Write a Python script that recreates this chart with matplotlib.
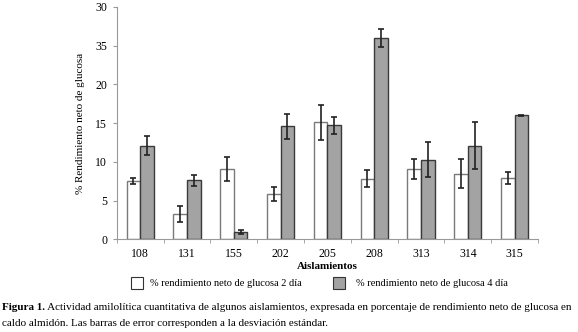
import matplotlib
matplotlib.use("Agg")
import matplotlib.pyplot as plt
import numpy as np
from matplotlib.patches import Rectangle

plt.rcParams['font.family'] = ['Liberation Serif', 'DejaVu Serif']

# data
aislamientos = ["108", "131", "155", "202", "205", "208", "313", "314", "315"]
dia2 = [7.5, 3.3, 9.1, 5.8, 15.1, 7.8, 9.1, 8.5, 7.9]
dia2_err = [0.4, 1.0, 1.55, 0.9, 2.3, 1.1, 1.3, 1.85, 0.8]
dia4 = [12.1, 7.6, 1.0, 14.6, 14.7, 26.0, 10.3, 12.1, 16.0]
dia4_err = [1.25, 0.7, 0.25, 1.6, 1.1, 1.2, 2.25, 3.05, 0.1]
y_ticks = [0, 5, 10, 15, 20, 25, 30]
y_labels = ["0", "5", "10", "15", "20", "35", "30"]

W, H = 578, 332
fig = plt.figure(figsize=(W / 100, H / 100), dpi=100)
ax = fig.add_axes([0.202, 0.279, 0.729, 0.700])

x = np.arange(len(aislamientos))
w = 0.29
ekw = dict(ecolor="#222222", elinewidth=1.2, capthick=1.2)
ax.bar(x - w / 2, dia2, w, color="white", edgecolor="#7a7a7a", linewidth=1.0,
       yerr=dia2_err, capsize=2.5, error_kw=ekw)
ax.bar(x + w / 2, dia4, w, color="#a3a3a3", edgecolor="#3a3a3a", linewidth=1.0,
       yerr=dia4_err, capsize=2.5, error_kw=ekw)

ax.set_xlim(-0.5, len(aislamientos) - 0.5)
ax.set_ylim(0, 30)
ax.set_yticks(y_ticks)
ax.set_yticklabels(y_labels)
ax.set_xticks(x)
ax.set_xticklabels(aislamientos)
ax.set_xticks(np.arange(len(aislamientos) + 1) - 0.5, minor=True)
ax.tick_params(axis="x", which="major", length=0, pad=6, labelsize=8.5)
ax.tick_params(axis="x", which="minor", length=3, color="#999999")
ax.tick_params(axis="y", length=3, color="#999999", labelsize=8.5, pad=4)

for s in ["top", "right"]:
    ax.spines[s].set_visible(False)
for s in ["left", "bottom"]:
    ax.spines[s].set_color("#999999")

ax.set_ylabel("% Rendimiento neto de glucosa", fontsize=8, labelpad=7)
ax.set_xlabel("Aislamientos", fontsize=8, fontweight="bold", labelpad=2)

# legend (drawn by hand to match the layout)
ly = 283
fig.patches.append(Rectangle((131 / W, 1 - (ly + 6) / H), 12 / W, 12 / H,
                             transform=fig.transFigure, facecolor="white", edgecolor="#333333", lw=0.8))
fig.text(150 / W, 1 - ly / H, "% rendimiento neto de glucosa 2 día", fontsize=7.5, va="center")
fig.patches.append(Rectangle((333 / W, 1 - (ly + 6) / H), 12 / W, 12 / H,
                             transform=fig.transFigure, facecolor="#a3a3a3", edgecolor="#333333", lw=0.8))
fig.text(356 / W, 1 - ly / H, "% rendimiento neto de glucosa 4 día", fontsize=7.5, va="center")

# caption
t = fig.text(2 / W, 1 - 308 / H, "Figura 1.", fontsize=8, va="center", fontweight="bold")
ax.annotate(" Actividad amilolítica cuantitativa de algunos aislamientos, expresada en porcentaje de rendimiento neto de glucosa en",
            xy=(1, 0.5), xycoords=t, fontsize=8, va="center", ha="left", annotation_clip=False)
fig.text(2 / W, 1 - 323 / H,
         "caldo almidón. Las barras de error corresponden a la desviación estándar.",
         fontsize=8, va="center")

fig.savefig("out.png", dpi=100)
